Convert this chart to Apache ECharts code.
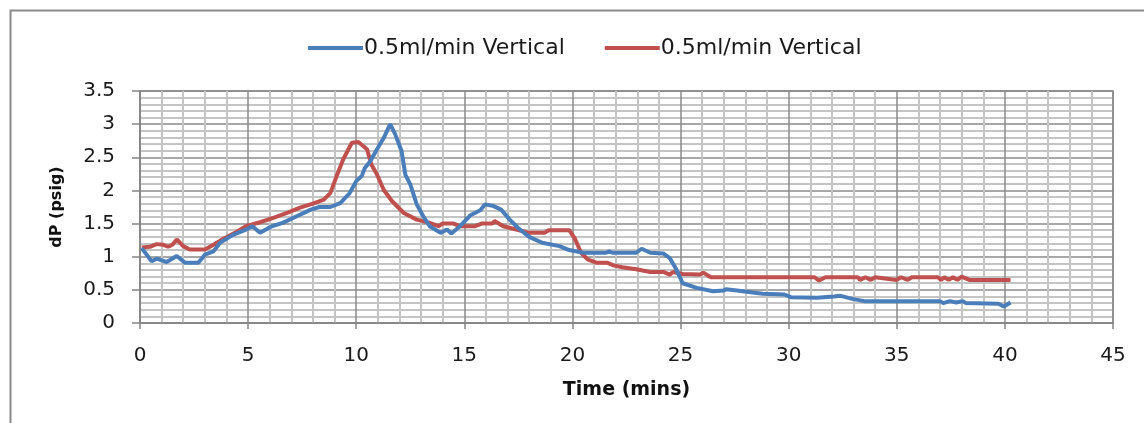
<!DOCTYPE html>
<html><head><meta charset="utf-8">
<script src="https://cdn.jsdelivr.net/npm/echarts@6/dist/echarts.min.js"></script>
<style>html,body{margin:0;padding:0;background:#fff;}#c{width:1144px;height:423px;}</style>
</head><body><div id="c"></div>
<script>
const seriesNames = ['0.5ml/min Vertical', '0.5ml/min Vertical'];
const xTicks = [0, 5, 10, 15, 20, 25, 30, 35, 40, 45];
const yTicks = [0, 0.5, 1, 1.5, 2, 2.5, 3, 3.5];

const blueTime = [0.08,0.54,0.77,1.23,1.7,2.08,2.7,3.0,3.4,3.7,4.3,4.9,5.2,5.55,6.1,6.6,7.25,7.9,8.3,8.8,9.26,9.7,10.0,10.26,10.4,10.65,10.96,11.27,11.57,11.8,12.1,12.27,12.5,12.8,13.1,13.4,13.9,14.2,14.4,14.8,15.3,15.74,15.96,16.3,16.7,17.1,17.5,18.0,18.6,19.4,19.85,20.5,21.55,21.7,21.85,22.95,23.2,23.6,24.2,24.5,24.8,25.1,25.75,26.5,27.0,27.1,27.6,28.8,29.8,30.1,31.3,32.1,32.4,33.0,33.5,37.0,37.15,37.45,37.75,38.05,38.2,39.7,39.95,40.26];
const blueDP = [1.13,0.93,0.97,0.92,1.01,0.91,0.91,1.03,1.08,1.21,1.33,1.41,1.46,1.36,1.46,1.51,1.61,1.71,1.75,1.75,1.81,1.96,2.14,2.22,2.34,2.44,2.62,2.79,3.0,2.85,2.59,2.24,2.09,1.79,1.61,1.46,1.36,1.41,1.35,1.46,1.63,1.70,1.79,1.77,1.71,1.56,1.43,1.30,1.21,1.16,1.10,1.06,1.06,1.08,1.06,1.06,1.12,1.06,1.05,0.98,0.81,0.60,0.53,0.48,0.49,0.51,0.49,0.44,0.43,0.39,0.38,0.40,0.41,0.36,0.33,0.33,0.30,0.33,0.31,0.33,0.30,0.29,0.25,0.31];

const redTime = [0.08,0.46,0.77,1.08,1.3,1.5,1.7,2.0,2.3,3.0,3.4,3.86,4.5,4.9,5.55,6.2,6.8,7.4,8.0,8.5,8.8,9.1,9.4,9.8,10.1,10.5,10.7,10.96,11.27,11.65,12.2,12.8,13.4,13.8,14.0,14.5,14.8,15.5,15.8,16.3,16.4,16.8,17.4,18.0,18.7,18.9,19.85,20.1,20.4,20.7,21.1,21.6,21.9,22.3,22.95,23.6,24.2,24.5,24.65,25.1,25.9,26.05,26.4,31.2,31.4,31.7,33.2,33.3,33.55,33.8,34.0,35.0,35.2,35.5,35.7,36.9,37.05,37.2,37.4,37.6,37.8,38.0,38.35,40.26];
const redDP = [1.14,1.15,1.19,1.18,1.15,1.18,1.26,1.16,1.11,1.11,1.18,1.27,1.38,1.46,1.52,1.59,1.66,1.74,1.80,1.86,1.96,2.22,2.47,2.72,2.73,2.62,2.39,2.24,2.01,1.84,1.66,1.56,1.51,1.46,1.50,1.50,1.46,1.46,1.50,1.50,1.54,1.46,1.41,1.36,1.36,1.40,1.40,1.28,1.06,0.96,0.91,0.91,0.87,0.84,0.81,0.77,0.77,0.73,0.77,0.74,0.73,0.76,0.69,0.69,0.64,0.69,0.69,0.65,0.69,0.65,0.69,0.65,0.69,0.65,0.69,0.69,0.65,0.69,0.65,0.69,0.65,0.70,0.65,0.65];

const zip = (a, b) => a.map((v, i) => [v, b[i]]);
const font = '"DejaVu Sans", "Open Sans", sans-serif';

const chart = echarts.init(document.getElementById('c'), null, {renderer: 'canvas'});
chart.setOption({
  animation: false,
  backgroundColor: '#fff',
  graphic: [{
    type: 'rect', shape: {x: 10.5, y: 10.5, width: 1200, height: 500},
    style: {fill: 'none', stroke: '#8a8a8a', lineWidth: 2}, z: -1
  }],
  legend: {
    top: 32, left: 303,
    itemWidth: 55, itemHeight: 4, itemGap: 40,
    icon: 'rect',
    textStyle: {fontFamily: font, fontSize: 22, color: '#1a1a1a', padding: [0, 0, 0, -4]},
    data: [{name: 'A', icon: 'rect'}, {name: 'B', icon: 'rect'}],
    formatter: (n) => n === 'A' ? seriesNames[0] : seriesNames[1]
  },
  grid: {left: 140, right: 31, top: 91, bottom: 100, show: true, borderColor: '#858585', borderWidth: 1.5, containLabel: false},
  xAxis: {
    type: 'value', min: xTicks[0], max: xTicks[xTicks.length - 1], interval: 5,
    name: 'Time (mins)', nameLocation: 'middle', nameGap: 58,
    nameTextStyle: {fontFamily: font, fontSize: 19, fontWeight: 'bold', color: '#111'},
    axisLine: {show: true, lineStyle: {color: '#858585', width: 1.5}},
    axisTick: {show: true, length: 6, lineStyle: {color: '#858585', width: 1.5}},
    axisLabel: {fontFamily: font, fontSize: 20, color: '#1a1a1a', margin: 23},
    splitLine: {show: true, lineStyle: {color: '#8a8a8a', width: 1.5}},
    minorTick: {show: true, splitNumber: 5, length: 0},
    minorSplitLine: {show: true, lineStyle: {color: '#c4c4c4', width: 2}}
  },
  yAxis: {
    type: 'value', min: yTicks[0], max: yTicks[yTicks.length - 1], interval: 0.5,
    name: 'dP (psig)', nameLocation: 'middle', nameGap: 75, nameRotate: 90,
    nameTextStyle: {fontFamily: font, fontSize: 16, fontWeight: 'bold', color: '#111'},
    axisLine: {show: true, lineStyle: {color: '#858585', width: 1.5}},
    axisTick: {show: true, length: 8, lineStyle: {color: '#858585', width: 1.5}},
    axisLabel: {fontFamily: font, fontSize: 20, color: '#1a1a1a', margin: 25},
    splitLine: {show: true, lineStyle: {color: '#8a8a8a', width: 1.5}},
    minorTick: {show: true, splitNumber: 5, length: 0},
    minorSplitLine: {show: true, lineStyle: {color: '#c4c4c4', width: 2}}
  },
  series: [
    {name: 'A', type: 'line', data: zip(blueTime, blueDP), showSymbol: false, symbol: 'none',
     color: '#4a7ebb', lineStyle: {color: '#4a7ebb', width: 4}, z: 3},
    {name: 'B', type: 'line', data: zip(redTime, redDP), showSymbol: false, symbol: 'none',
     color: '#c0504d', lineStyle: {color: '#c0504d', width: 4}, z: 2}
  ]
});
</script></body></html>
